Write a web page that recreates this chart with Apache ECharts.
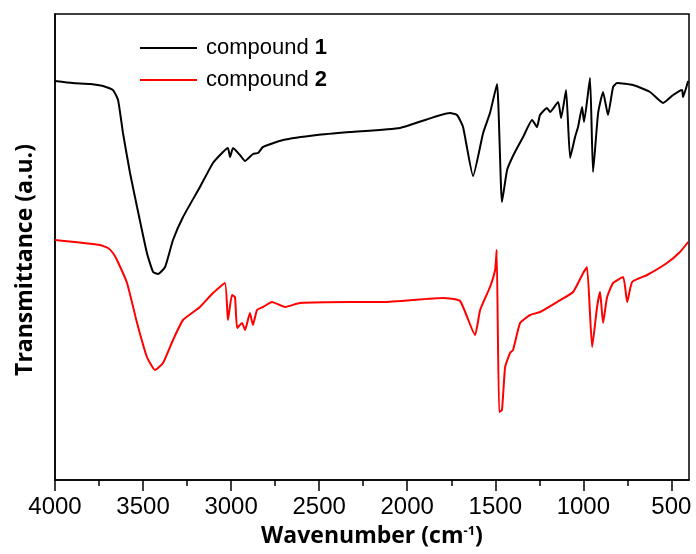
<!DOCTYPE html>
<html>
<head>
<meta charset="utf-8">
<script src="https://cdn.jsdelivr.net/npm/echarts@6/dist/echarts.min.js"></script>
<style>
html,body{margin:0;padding:0;background:#fff;}
#chart{width:696px;height:554px;}
</style>
</head>
<body>
<div id="chart"></div>
<script>
// Wavenumbers (cm-1) and transmittance (a.u.)
var wave1 = [4000,3900,3800,3727,3671,3642,3614,3574,3534,3478,3443,3415,3375,3330,3273,3177,3103,3046,3018,3006,2989,2950,2921,2876,2847,2819,2705,2512,2325,2041,1757,1717,1683,1626,1569,1530,1490,1462,1433,1405,1376,1342,1291,1263,1246,1206,1189,1143,1126,1098,1075,1047,1030,1007,996,962,945,916,888,860,831,808,718,621,547,490,439,434,405];
var trans1 = [399,397,396,394,390,380,347,307,273,227,208,206,213,240,263,293,317,328,332,323,332,325,319,326,327,333,340,345,348,352,367,365,353,304,347,367,396,278,310,322,332,343,360,353,365,372,368,378,362,390,322,343,353,373,358,402,308,367,388,365,393,397,395,388,377,385,390,383,399];
var wave2 = [4000,3744,3699,3671,3648,3591,3534,3478,3432,3387,3330,3273,3177,3103,3035,3018,2995,2978,2966,2938,2921,2893,2876,2853,2819,2768,2694,2609,2325,2137,1797,1700,1615,1586,1530,1501,1492,1478,1462,1444,1416,1399,1359,1302,1246,1149,1058,1001,979,950,922,905,888,865,831,774,751,723,638,525,451,405];
var trans2 = [240,235,232,227,220,197,157,123,110,117,140,160,173,187,197,160,185,183,152,157,150,167,155,170,173,178,173,177,178,178,182,179,145,170,193,210,230,68,70,113,127,130,157,165,168,178,188,207,213,133,173,188,157,183,197,203,178,198,205,217,228,238];
var majorTicks = [4000,3500,3000,2500,2000,1500,1000,500];
var minorTicks = [3750,3250,2750,2250,1750,1250,750];
var seriesNames = ['compound 1','compound 2'];

function pairs(xs, ys){ return xs.map(function(x,i){ return [x, ys[i]]; }); }

var chart = echarts.init(document.getElementById('chart'), null, {renderer:'canvas'});
var xBase = {
  type:'value', min:400, max:4000, inverse:true,
  splitLine:{show:false}
};
chart.setOption({
  animation:false,
  backgroundColor:'#fff',
  grid:{left:55, right:7, top:14, bottom:74, show:true, borderColor:'#000', borderWidth:1.5},
  legend:{
    data:seriesNames.map(function(n){ return {name:n, icon:'rect'}; }),
    left:140, top:36, orient:'vertical', padding:0,
    itemWidth:57, itemHeight:2, itemGap:8,
    formatter:function(n){ var p=n.split(' '); return p[0]+' {b|'+p[1]+'}'; },
    textStyle:{fontFamily:'Liberation Sans', fontSize:22, color:'#000', lineHeight:24, padding:[0,0,0,4],
      rich:{b:{fontFamily:'Liberation Sans', fontSize:22, fontWeight:'bold', color:'#000'}}}
  },
  xAxis:[
    Object.assign({}, xBase, {
      name:'Wavenumber (cm{s|-1})', nameLocation:'middle', nameGap:45,
      nameTextStyle:{fontFamily:'Open Sans', fontWeight:'bold', fontSize:23, color:'#000',
        rich:{s:{fontFamily:'Open Sans', fontWeight:'bold', fontSize:13, verticalAlign:'top', padding:[0,0,10,0], color:'#000'}}},
      axisLine:{show:true, lineStyle:{color:'#000', width:1.5}},
      axisTick:{show:true, inside:false, length:11, lineStyle:{color:'#000', width:1.5}, customValues:majorTicks},
      axisLabel:{show:true, margin:15, fontFamily:'Liberation Sans', fontSize:24, color:'#000', customValues:majorTicks,
        formatter:function(v){ return String(v); }}
    }),
    Object.assign({}, xBase, {
      position:'bottom',
      axisLine:{show:false},
      axisTick:{show:true, length:6, lineStyle:{color:'#000', width:1.5}, customValues:minorTicks},
      axisLabel:{show:false}
    })
  ],
  yAxis:{
    type:'value', min:0, max:466,
    axisLine:{show:true, lineStyle:{color:'#000', width:1.5}},
    axisTick:{show:false}, axisLabel:{show:false}, splitLine:{show:false}
  },
  graphic:[{
    type:'text', x:25, y:260, rotation:Math.PI/2,
    style:{text:'Transmittance (a.u.)', fontFamily:'Open Sans', fontWeight:'bold', fontSize:23, fill:'#000',
      textAlign:'center', textVerticalAlign:'middle'}
  }],
  series:[
    {name:seriesNames[0], type:'line', data:pairs(wave1,trans1), symbol:'none', smooth:0.15,
     lineStyle:{color:'#000', width:2}, itemStyle:{color:'#000'}},
    {name:seriesNames[1], type:'line', data:pairs(wave2,trans2), symbol:'none', smooth:0.15,
     lineStyle:{color:'#ff0000', width:2}, itemStyle:{color:'#ff0000'}}
  ]
});
</script>
</body>
</html>
